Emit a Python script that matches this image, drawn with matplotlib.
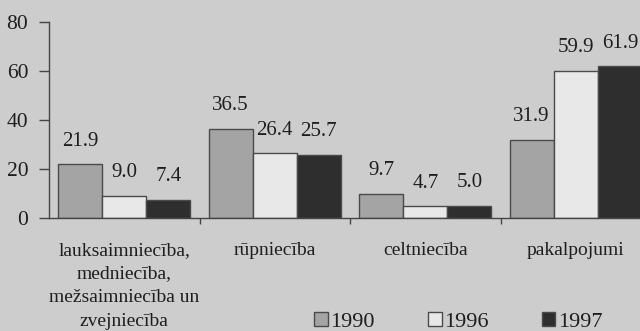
import matplotlib
matplotlib.use("Agg")
import matplotlib.pyplot as plt
from matplotlib.patches import Patch
import numpy as np

categories = ["lauksaimniecība,\nmedniecība,\nmežsaimniecība un\nzvejniecība",
              "rūpniecība", "celtniecība", "pakalpojumi"]
years = ["1990", "1996", "1997"]
v1990 = [21.9, 36.5, 9.7, 31.9]
v1996 = [9.0, 26.4, 4.7, 59.9]
v1997 = [7.4, 25.7, 5.0, 61.9]
yticks = [0, 20, 40, 60, 80]

bg = "#cdcdcd"
colors = ["#a4a4a4", "#e8e8e8", "#2e2e2e"]
edge = "#4a4a4a"
txt = "#1e1e1e"

plt.rcParams['font.family'] = ['Liberation Serif', 'DejaVu Serif']

fig = plt.figure(figsize=(6.4, 3.31), dpi=100, facecolor=bg)
W, H = 640, 331
ax = fig.add_axes([49 / W, (H - 218) / H, (651 - 49) / W, (218 - 22) / H])
ax.set_facecolor(bg)

x = np.arange(len(categories))
bw = 0.293
series = [v1990, v1996, v1997]
for i, vals in enumerate(series):
    xs = x + (i - 1) * bw
    ax.bar(xs, vals, width=bw, color=colors[i], edgecolor=edge, linewidth=1.0, zorder=2)
    for xi, v in zip(xs, vals):
        ax.annotate(f"{v:.1f}", (xi, v), xytext=(0, 13.5), textcoords="offset points",
                    ha="center", va="baseline", fontsize=15, color=txt)

ax.set_xlim(-0.5, 3.5)
ax.set_ylim(0, 80)
ax.set_yticks(yticks)
ax.set_yticklabels([str(t) for t in yticks], fontsize=15.5, color=txt)
ax.tick_params(axis='y', direction='out', length=7, width=1, color="#444444", pad=8)
ax.set_xticks([0.5, 1.5, 2.5])
ax.set_xticklabels([])
ax.tick_params(axis='x', direction='out', length=4, width=1, color="#444444")
for s in ["top", "right"]:
    ax.spines[s].set_visible(False)
for s in ["left", "bottom"]:
    ax.spines[s].set_color("#444444")
    ax.spines[s].set_linewidth(1.0)

for xi, c in zip(x, categories):
    ax.text(xi, -9.8, c, ha="center", va="top", fontsize=14, color=txt,
            linespacing=1.5, transform=ax.transData)

handles = [Patch(facecolor=colors[i], edgecolor=edge, linewidth=1.0) for i in range(3)]
fig.legend(handles, years, loc="center left", bbox_to_anchor=(314 / W, (H - 322) / H),
           ncol=3, frameon=False, fontsize=16, handlelength=0.62, handleheight=0.62,
           handletextpad=0.1, columnspacing=2.4, borderpad=0, borderaxespad=0,
           labelcolor=txt)

fig.savefig("out.png", dpi=100, facecolor=bg)
